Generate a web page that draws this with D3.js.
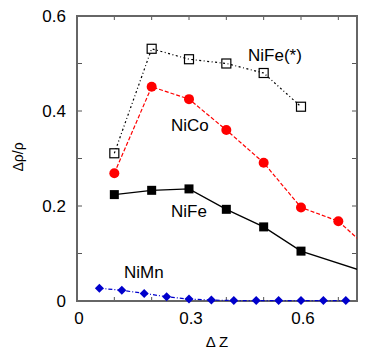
<!DOCTYPE html>
<html><head><meta charset="utf-8">
<script src="https://cdn.jsdelivr.net/npm/d3@7/dist/d3.min.js"></script>
<style>body{margin:0;background:#fff}svg{display:block}text{font-family:"Liberation Sans",Arial,sans-serif}</style>
</head><body>
<svg id="c" width="374" height="351"></svg>
<script>
const nifeX = [0.1, 0.2, 0.3, 0.4, 0.5, 0.6, 0.8];
const nifeY = [0.224, 0.233, 0.236, 0.193, 0.156, 0.105, 0.054];
const nicoX = [0.1, 0.2, 0.3, 0.4, 0.5, 0.6, 0.7, 0.8];
const nicoY = [0.269, 0.451, 0.425, 0.36, 0.291, 0.197, 0.168, 0.097];
const nifeStarX = [0.1, 0.2, 0.3, 0.4, 0.5, 0.6];
const nifeStarY = [0.311, 0.531, 0.509, 0.5, 0.48, 0.409];
const nimnX = [0.06, 0.12, 0.18, 0.24, 0.30, 0.36, 0.42, 0.48, 0.54, 0.60, 0.66, 0.72];
const nimnY = [0.027, 0.0225, 0.016, 0.009, 0.004, 0.002, 0.001, 0.001, 0.001, 0.001, 0.001, 0.001];
const xTickLabels = [0, 0.3, 0.6];
const yTickLabels = [0, 0.2, 0.4, 0.6];
const minorTicks = [0.1, 0.2, 0.3, 0.4, 0.5, 0.6, 0.7];
const yMinor = [0.1, 0.2, 0.3, 0.4, 0.5];

const L = 77, R = 357, T = 16, B = 301;
const x = d3.scaleLinear().domain([0, 0.75]).range([L, R]);
const y = d3.scaleLinear().domain([0, 0.6]).range([B, T]);
const svg = d3.select("#c");

svg.append("defs").append("clipPath").attr("id", "clip")
  .append("rect").attr("x", L).attr("y", T - 6).attr("width", R - L).attr("height", B - T + 12);

// ticks (inward, mirrored)
const tg = svg.append("g").attr("stroke", "#555").attr("stroke-width", 1);
minorTicks.forEach(v => {
  tg.append("line").attr("x1", x(v)).attr("x2", x(v)).attr("y1", B).attr("y2", B - 4);
  tg.append("line").attr("x1", x(v)).attr("x2", x(v)).attr("y1", T).attr("y2", T + 4);
});
yMinor.forEach(v => {
  tg.append("line").attr("y1", y(v)).attr("y2", y(v)).attr("x1", L).attr("x2", L + 5);
  tg.append("line").attr("y1", y(v)).attr("y2", y(v)).attr("x1", R).attr("x2", R - 5);
});

// frame
svg.append("rect").attr("x", L).attr("y", T).attr("width", R - L).attr("height", B - T)
  .attr("fill", "none").attr("stroke", "#666").attr("stroke-width", 2);

// tick labels
svg.append("g").selectAll("text").data(xTickLabels).join("text")
  .attr("x", d => x(d) + 2).attr("y", 324).attr("text-anchor", "middle")
  .attr("font-size", 17).attr("fill", "#000").text(d => d3.format("")(d));
svg.append("g").selectAll("text").data(yTickLabels).join("text")
  .attr("x", 66).attr("y", d => y(d) + 6).attr("text-anchor", "end")
  .attr("font-size", 17).attr("fill", "#000").text(d => d === 0 ? "0" : d.toFixed(1));

// axis labels
svg.append("text").attr("transform", "translate(22.5,157) rotate(-90)")
  .attr("text-anchor", "middle").attr("font-size", 14).text("Δρ/ρ");
svg.append("text").attr("x", 217).attr("y", 347).attr("text-anchor", "middle")
  .attr("font-size", 15).text("Δ Z");

const plot = svg.append("g").attr("clip-path", "url(#clip)");
const line = d3.line().x(d => x(d[0])).y(d => y(d[1]));
const zip = (a, b) => a.map((v, i) => [v, b[i]]);

const nife = zip(nifeX, nifeY), nico = zip(nicoX, nicoY), nifeS = zip(nifeStarX, nifeStarY), nimn = zip(nimnX, nimnY);

plot.append("path").datum(nifeS).attr("d", line).attr("fill", "none").attr("stroke", "#000")
  .attr("stroke-width", 1.2).attr("stroke-dasharray", "2,2.5,1,2.5");
plot.append("path").datum(nico).attr("d", line).attr("fill", "none").attr("stroke", "#f00")
  .attr("stroke-width", 1.2).attr("stroke-dasharray", "4,2");
plot.append("path").datum(nife).attr("d", line).attr("fill", "none").attr("stroke", "#000")
  .attr("stroke-width", 1.3);
plot.append("path").datum(nimn).attr("d", line).attr("fill", "none").attr("stroke", "#00c")
  .attr("stroke-width", 1.2).attr("stroke-dasharray", "4,2,1,2");

// markers
plot.selectAll(".sq").data(nife).join("rect").attr("x", d => x(d[0]) - 4.5).attr("y", d => y(d[1]) - 4.5)
  .attr("width", 9).attr("height", 9).attr("fill", "#000");
plot.selectAll(".ci").data(nico).join("circle").attr("cx", d => x(d[0])).attr("cy", d => y(d[1]))
  .attr("r", 5).attr("fill", "#f00");
plot.selectAll(".os").data(nifeS).join("rect").attr("x", d => x(d[0]) - 4.5).attr("y", d => y(d[1]) - 4.5)
  .attr("width", 9).attr("height", 9).attr("fill", "none").attr("stroke", "#000").attr("stroke-width", 1.2);
plot.selectAll(".di").data(nimn).join("path")
  .attr("d", d => { const cx = x(d[0]), cy = y(d[1]); return `M${cx - 4.5},${cy}L${cx},${cy - 4.5}L${cx + 4.5},${cy}L${cx},${cy + 4.5}Z`; })
  .attr("fill", "#00c");

// series labels
const lab = [["NiFe(*)", 248, 61], ["NiCo", 171, 131], ["NiFe", 171, 217], ["NiMn", 124, 278]];
svg.append("g").selectAll("text").data(lab).join("text")
  .attr("x", d => d[1]).attr("y", d => d[2]).attr("font-size", 17).attr("fill", "#000").text(d => d[0]);
</script>
</body></html>
